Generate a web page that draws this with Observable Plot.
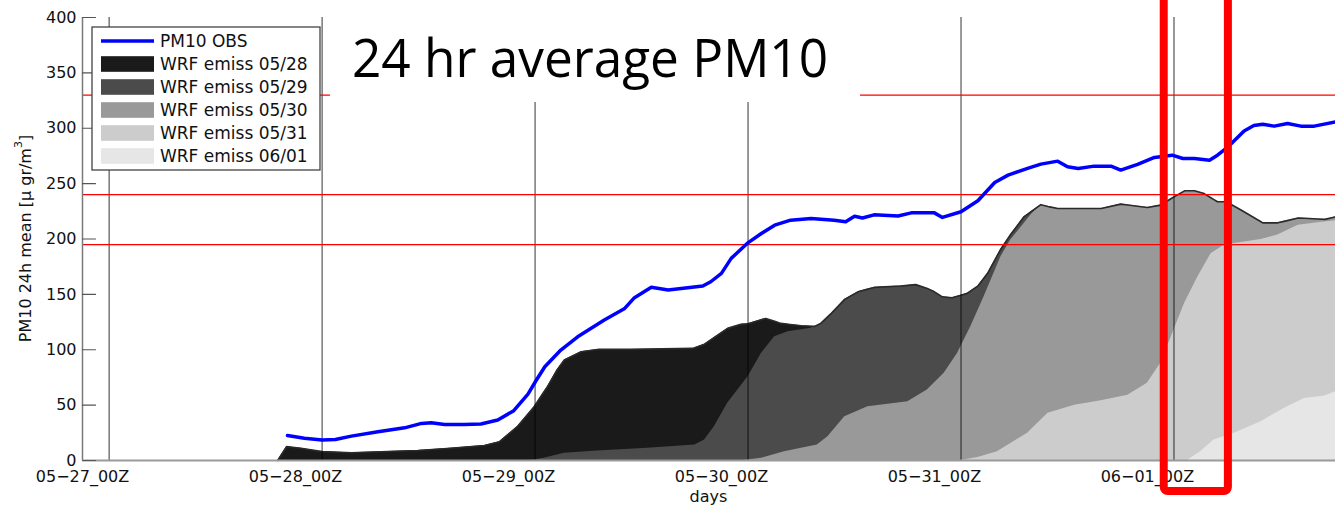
<!DOCTYPE html>
<html><head><meta charset="utf-8">
<script src="https://cdn.jsdelivr.net/npm/d3@7"></script>
<script src="https://cdn.jsdelivr.net/npm/@observablehq/plot@0.6"></script>
<style>
html,body{margin:0;padding:0;background:#fff;}
#chart{width:1335px;height:509px;overflow:hidden;position:relative;}
</style>
</head><body><div id="chart"></div>
<script>
// ---------- DATA (hours since 05-27 00Z) ----------
const xDomain = [-3, 138.2];
const labelHours = [-3, 21, 45, 69, 93, 117];
const tickLabels = ["05−27_00Z","05−28_00Z","05−29_00Z","05−30_00Z","05−31_00Z","06−01_00Z"];
const gridHours = [0, 24, 48, 72, 96, 120];
const yTicks = [0,50,100,150,200,250,300,350,400];
const thresholds = [330, 240, 195];

const obsHours = [20.1,22,24,25.5,27.3,30.3,33.3,35.2,36.3,37.8,40,41.9,43.8,45.6,47.2,48.1,49.1,50.9,52.8,55.8,58.1,59.2,61.1,63,65.2,66.9,67.8,69,70.1,71.9,73.5,75,76.8,79.1,81.7,83,84,84.9,86.2,88.9,90.4,93,93.9,96,97.9,99.8,101.3,103.5,105,106.9,108,109.2,111,112.9,114,115.9,117.8,119.8,121,122.3,124,124.9,126.1,127.9,129,130,131.3,132.8,134.3,135.8,138.2];
const obsValues = [22.5,20,18.5,19,22,26,29.5,33.5,34,32.5,32.5,33,36.5,45,60,72,84.7,99.7,111.7,126.8,137.3,147,156.5,153.9,156,157.5,161.4,169,182.5,196,205,212.5,217,218.6,217,215.5,220.5,219,221.8,220.8,223.6,223.6,219.5,224.6,234.5,251,257.7,263.7,267.6,270.3,265.2,263.7,265.8,265.8,262.2,267.3,273.6,275.7,272.7,272.7,271.2,275.7,283.2,297.6,302.5,303.7,301.9,304.3,301.9,301.9,305.8];

const run0528Hours = [19,20,21.6,24,27.3,34.8,38.5,42.3,44,46,47.9,49.4,50.5,51.3,53.2,55.1,58.8,65.8,67.1,69.7,71.2,72,74,75.7,78,79.5,80.5];
const run0528Values = [0,12.5,11,8,7,9,11,13.5,17,30.5,48.6,66.6,82,90.7,98.2,100.3,100.3,101.2,105,119.3,122.9,123.5,128.3,123.8,121.7,121,116];

const run0529Hours = [47.5,49,51.3,55,60.7,66,67.1,68.2,69.7,72,73.5,75,76.5,79.1,80.2,81.4,82.9,84.4,86.2,89.2,90.9,92.2,93,93.9,95,96.7,97.9,99,100.5,101.6,103.1,105,106];
const run0529Values = [0,2,6.5,8.6,11,14,18.5,30.5,51.6,75.6,96.7,111.7,116.2,119.5,123.8,132.9,145.5,152.3,156.3,157.5,158.8,155.4,152.3,147.8,147,150.9,157.5,169,191,204,220,231,226];

const run0530Hours = [71.5,73.5,76.1,79.8,81,82.9,85.5,90,92.2,94.1,95.6,97.1,98.6,100.5,101.6,103.9,105,106.9,111.8,114,117,118.5,120,121.2,122.3,123.4,124.9,125.9,127.6,130,131.7,134,137,138.2];
const run0530Values = [0,2,8,14,21.5,39.5,48.6,53.1,63.6,78.7,96.7,120.8,147.8,184,199,222,230.6,227.6,227.6,231.5,228.5,230.6,238,243.5,243.5,241,233.6,233.6,226,214.6,214.6,219,217.7,220];

const run0531Hours = [96,98,100.1,103.5,105.8,108.8,111.8,114.8,117,118.5,119.7,121.2,122.7,124.2,125.7,126.8,129.8,131.7,134,136.2,138.2];
const run0531Values = [0,3,8,24.5,42.6,50,54,59,69.7,87.7,111.7,141.9,166,187,194.5,196,199.6,203.5,212.5,214.6,216.4];

const run0601Hours = [121.5,123,124.5,126.8,129.8,132.4,134.7,137,138.2];
const run0601Values = [0,8,18.5,24.5,35,47,56,58.2,62];

const seriesNames = ["PM10 OBS","WRF emiss 05/28","WRF emiss 05/29","WRF emiss 05/30","WRF emiss 05/31","WRF emiss 06/01"];
const seriesColors = ["#0000ff","#1a1a1a","#4b4b4b","#999999","#cccccc","#e6e6e6"];

const titleText = "24 hr average PM10";
const yLabelMain = "PM10 24h mean [μ gr/m";
const yLabelSup = "3";
const xLabel = "days";
const highlightHours = [118.9, 126.13];

// ---------- BUILD ----------
const runs = [
  [run0528Hours, run0528Values],
  [run0529Hours, run0529Values],
  [run0530Hours, run0530Values],
  [run0531Hours, run0531Values],
  [run0601Hours, run0601Values]
].map(([hs, vs], i) => ({name: seriesNames[i+1], color: seriesColors[i+1], data: hs.map((h, j) => ({h, v: vs[j]}))}));

function interp(data, h) {
  if (h < data[0].h || h > data[data.length-1].h) return 0;
  const i = d3.bisector(d => d.h).right(data, h);
  if (i >= data.length) return data[data.length-1].v;
  const a = data[i-1], b = data[i];
  return a.v + (h - a.h) / (b.h - a.h) * (b.v - a.v);
}
const allHours = Array.from(new Set(runs.flatMap(r => r.data.map(d => d.h)))).sort((a,b)=>a-b);
const envelope = allHours.map(h => ({h, v: d3.max(runs, r => interp(r.data, h))}));

const obs = obsHours.map((h, i) => ({h, v: obsValues[i]}));

const tickShape = {draw(ctx, l) { ctx.moveTo(0, 0); ctx.lineTo(0, -l); }};

const chart = Plot.plot({
  width: 1335, height: 509,
  marginLeft: 82, marginRight: 0, marginTop: 17, marginBottom: 49,
  style: {fontFamily: "'DejaVu Sans', sans-serif", fontSize: "16px", background: "#fff", color: "#111"},
  x: {domain: xDomain},
  y: {domain: [0, 400]},
  marks: [
    ...runs.map(r => Plot.areaY(r.data, {x: "h", y: "v", fill: r.color})),
    Plot.line(envelope, {x: "h", y: "v", stroke: "#2a2a2a", strokeWidth: 1.6}),
    Plot.ruleX(gridHours, {stroke: "#000", strokeWidth: 1, strokeOpacity: 0.8}),
    Plot.ruleY(thresholds, {stroke: "#ff0000", strokeWidth: 1.2}),
    Plot.line(obs, {x: "h", y: "v", stroke: seriesColors[0], strokeWidth: 3.5}),
    Plot.ruleX([xDomain[0]], {stroke: "#7a7a7a", strokeWidth: 1.5}),
    Plot.ruleY([0], {stroke: "#9a9a9a", strokeWidth: 2}),
    Plot.vector(yTicks, {x: xDomain[0], y: d => d, length: 13, rotate: 90, anchor: "start", shape: tickShape, stroke: "#555", strokeWidth: 1.2}),
    Plot.axisY({ticks: yTicks, tickSize: 0, tickPadding: 6, label: null, fontSize: 16}),
    Plot.axisX({ticks: labelHours, tickFormat: d => tickLabels[labelHours.indexOf(d)], tickSize: 0, tickPadding: 10, label: null, fontSize: 16})
  ]
});
document.getElementById("chart").appendChild(chart);

const svg = d3.select(chart);
const xs = chart.scale("x"), ys = chart.scale("y");
const xL = xs.range[0], xR = xs.range[1], yT = ys.range[1], yB = ys.range[0];

// axis titles
svg.append("text").attr("x", (xL + xR) / 2).attr("y", 502)
  .attr("text-anchor", "middle").attr("font-size", 16).attr("fill", "#111").text(xLabel);
const yl = svg.append("text").attr("transform", `translate(25,${(yT + yB) / 2}) rotate(-90)`)
  .attr("text-anchor", "middle").attr("dominant-baseline", "central").attr("font-size", 16).attr("fill", "#111");
yl.append("tspan").text(yLabelMain);
yl.append("tspan").attr("font-size", 11).attr("dy", -7).text(yLabelSup);
yl.append("tspan").attr("dy", 7).text("]");

// title box
svg.append("rect").attr("x", 330).attr("y", 0).attr("width", 530).attr("height", 102).attr("fill", "#fff");
svg.append("text").attr("x", 352).attr("y", 77).attr("text-anchor", "start")
  .attr("font-family", "'Open Sans', sans-serif").attr("font-size", 53).attr("fill", "#000")
  .attr("textLength", 476).attr("lengthAdjust", "spacingAndGlyphs").text(titleText);

// legend
const lg = svg.append("g").attr("text-anchor", "start");
lg.append("rect").attr("x", 92).attr("y", 27).attr("width", 228).attr("height", 143)
  .attr("fill", "#fff").attr("stroke", "#444").attr("stroke-width", 1.3);
seriesNames.forEach((name, i) => {
  const cy = 41 + i * 23;
  if (i === 0) {
    lg.append("line").attr("x1", 101).attr("x2", 154).attr("y1", cy).attr("y2", cy)
      .attr("stroke", seriesColors[0]).attr("stroke-width", 3.5);
  } else {
    lg.append("rect").attr("x", 101).attr("y", cy - 7.8).attr("width", 53).attr("height", 15.6)
      .attr("fill", seriesColors[i]);
  }
  lg.append("text").attr("x", 160).attr("y", cy).attr("dominant-baseline", "central")
    .attr("text-anchor", "start").attr("font-size", 17).attr("fill", "#111").text(name);
});

// highlight annotation
const hx0 = xs.apply(highlightHours[0]), hx1 = xs.apply(highlightHours[1]);
svg.append("rect").attr("x", hx0).attr("y", -10).attr("width", hx1 - hx0).attr("height", 501)
  .attr("fill", "none").attr("stroke", "#ff0000").attr("stroke-width", 8).attr("rx", 4);
</script>
</body></html>
